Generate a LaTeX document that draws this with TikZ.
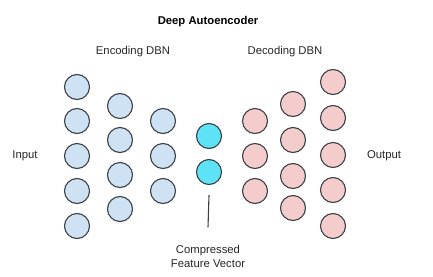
\documentclass[tikz,border=0pt]{standalone}
\usepackage{fontspec}
\setmainfont{Liberation Sans}
\definecolor{encfill}{HTML}{CFE2F3}
\definecolor{decfill}{HTML}{F4CCCC}
\definecolor{codefill}{HTML}{5DE2F6}
\definecolor{rim}{HTML}{3A3F44}
\begin{document}
\begin{tikzpicture}[x=1pt, y=-1pt,
    unit/.style={circle, draw=rim, line width=1.1pt, minimum size=25pt, inner sep=0pt},
    enc/.style={unit, fill=encfill},
    dec/.style={unit, fill=decfill},
    code/.style={unit, fill=codefill},
    lbl/.style={font=\fontsize{11.3}{14}\selectfont, text=black!85}]
  \useasboundingbox (0,0) rectangle (433,276);

  \node[lbl, font=\fontsize{11.3}{14}\selectfont\bfseries, text=black] (title) at (208,22) {Deep Autoencoder};
  \node[lbl] (enclab) at (133,52) {Encoding DBN};
  \node[lbl] (declab) at (285,52) {Decoding DBN};
  \node[lbl] (inlab) at (25,156) {Input};
  \node[lbl] (outlab) at (384,156) {Output};

  % encoding layers, 5 - 4 - 3 units
  \foreach \i/\y in {1/87, 2/121, 3/156, 4/191, 5/226}
    \node[enc] (ea-\i) at (77,\y) {};
  \foreach \i/\y in {1/106, 2/140, 3/175, 4/209}
    \node[enc] (eb-\i) at (120,\y) {};
  \foreach \i/\y in {1/121, 2/156, 3/191}
    \node[enc] (ec-\i) at (163,\y) {};

  % code layer
  \node[code] (c-1) at (209,136) {};
  \node[code] (c-2) at (209,172) {};

  % decoding layers, 3 - 4 - 5 units
  \foreach \i/\y in {1/121, 2/156, 3/191}
    \node[dec] (da-\i) at (255,\y) {};
  \foreach \i/\y in {1/104, 2/140, 3/176, 4/208}
    \node[dec] (db-\i) at (293,\y) {};
  \foreach \i/\y in {1/82, 2/118, 3/155, 4/190, 5/226}
    \node[dec] (dc-\i) at (333,\y) {};

  \node[lbl, align=center] (cvlab) at (208,256) {Compressed\\Feature Vector};
  \draw[rim, line width=1.1pt] ([yshift=-10pt]c-2.south) -- ([yshift=14pt]cvlab.north);
\end{tikzpicture}
\end{document}
